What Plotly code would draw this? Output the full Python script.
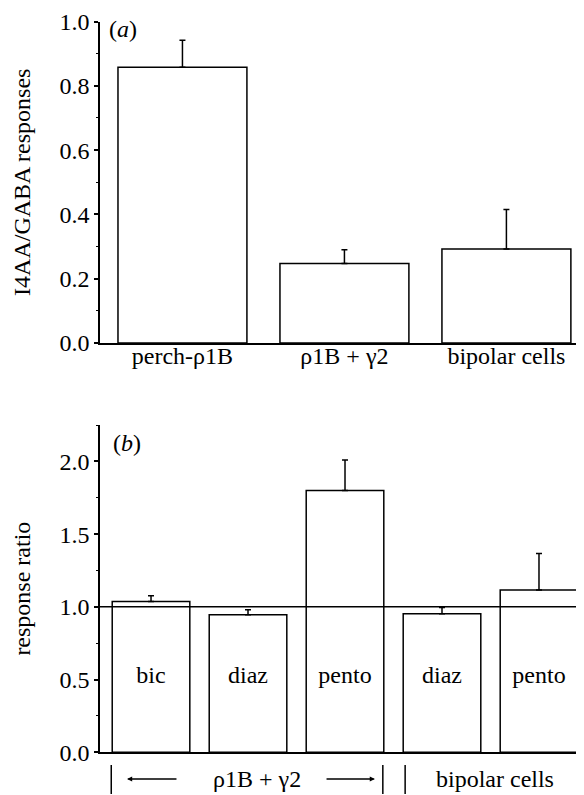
import plotly.graph_objects as go

# ---- data ----
top_labels = ["perch-ρ1B", "ρ1B + γ2", "bipolar cells"]
top_values = [0.858, 0.247, 0.292]
top_errors = [0.084, 0.043, 0.123]

bottom_labels = ["bic", "diaz", "pento", "diaz", "pento"]
bottom_values = [1.036, 0.946, 1.80, 0.953, 1.116]
bottom_errors = [0.041, 0.034, 0.21, 0.042, 0.25]

group_names = ["ρ1B + γ2", "bipolar cells"]
group_centers = [1.09, 3.55]
group_edges = [-0.41, 2.39, 2.62, 4.45]

FONT = "Liberation Serif, Times New Roman, serif"
FS = 24
O = 8                      # default page body margin
W, H = 584 - O, 795 - O
L = 100 - O


def py(y):
    """page pixel y -> paper fraction"""
    return (H - (y - O)) / H


def px(x):
    """page pixel x -> paper fraction"""
    return (x - O - L) / (W - L)


fig = go.Figure()

top_x = list(range(len(top_values)))
fig.add_trace(go.Bar(
    x=top_x, y=top_values, width=0.796,
    marker=dict(color="white", line=dict(color="black", width=1.5)),
    error_y=dict(type="data", symmetric=False, array=top_errors,
                 arrayminus=[0] * len(top_errors), color="black",
                 thickness=1.5, width=3),
    xaxis="x", yaxis="y", showlegend=False,
))

bot_x = list(range(len(bottom_values)))
fig.add_trace(go.Bar(
    x=bot_x, y=bottom_values, width=0.8,
    marker=dict(color="white", line=dict(color="black", width=1.5)),
    error_y=dict(type="data", symmetric=False, array=bottom_errors,
                 arrayminus=[0] * len(bottom_errors), color="black",
                 thickness=1.5, width=3),
    xaxis="x2", yaxis="y2", showlegend=False,
))

fig.add_trace(go.Scatter(
    x=bot_x, y=[0.52] * len(bot_x), text=bottom_labels, mode="text",
    textfont=dict(family=FONT, size=FS, color="black"),
    xaxis="x2", yaxis="y2", showlegend=False, hoverinfo="skip",
))

xdom = [0.0, 1.0]
top_ydom = [py(343), py(21.5)]
bot_ydom = [py(752.3), py(425)]

axis_common = dict(showline=True, linecolor="black", linewidth=1.5,
                   showgrid=False, zeroline=False, automargin=False,
                   tickfont=dict(family=FONT, size=FS, color="black"))

fig.update_layout(
    width=W, height=H,
    margin=dict(l=L, r=0, t=0, b=0, autoexpand=False),
    paper_bgcolor="white", plot_bgcolor="white",
    font=dict(family=FONT, size=FS, color="black"),
    xaxis=dict(domain=xdom, anchor="y", range=[-0.509, 2.479],
               tickmode="array", tickvals=top_x, ticktext=top_labels,
               ticks="", ticklabelstandoff=-10, **axis_common),
    yaxis=dict(domain=top_ydom, anchor="x", range=[0, 1.0],
               tickmode="linear", tick0=0, dtick=0.2, tickformat=".1f",
               ticks="outside", ticklen=4, tickwidth=1.5, tickcolor="black",
               ticklabeloverflow="allow",
               minor=dict(dtick=0.1, ticks="outside", ticklen=2,
                          tickwidth=1.2, tickcolor="black"),
               title=dict(text="I4AA/GABA responses", standoff=22,
                          font=dict(family=FONT, size=FS)),
               **axis_common),
    xaxis2=dict(domain=xdom, anchor="y2", range=[-0.526, 4.464],
                showticklabels=False, ticks="", **axis_common),
    yaxis2=dict(domain=bot_ydom, anchor="x2", range=[0, 2.25],
                tickmode="linear", tick0=0, dtick=0.5, tickformat=".1f",
                ticks="outside", ticklen=4, tickwidth=1.5, tickcolor="black",
                ticklabeloverflow="allow",
                minor=dict(dtick=0.25, ticks="outside", ticklen=2,
                           tickwidth=1.2, tickcolor="black"),
                title=dict(text="response ratio", standoff=22,
                           font=dict(family=FONT, size=FS)),
                **axis_common),
)

# reference line at 1.0
fig.add_shape(type="line", xref="x2 domain", yref="y2", x0=0, x1=1,
              y0=1.0, y1=1.0, line=dict(color="black", width=1.5))

# panel labels
fig.add_annotation(text="(<i>a</i>)", xref="paper", yref="paper",
                   x=px(123), y=py(29), xanchor="center", yanchor="middle",
                   showarrow=False, font=dict(family=FONT, size=FS))
fig.add_annotation(text="(<i>b</i>)", xref="paper", yref="paper",
                   x=px(127), y=py(443), xanchor="center", yanchor="middle",
                   showarrow=False, font=dict(family=FONT, size=FS))

# group brackets below the bottom panel
for xe in group_edges:
    fig.add_shape(type="line", xref="x2", yref="paper", x0=xe, x1=xe,
                  y0=py(794), y1=py(765), line=dict(color="black", width=1.5))

ytxt = py(779)
for name, xc in zip(group_names, group_centers):
    fig.add_annotation(text=name, xref="x2", yref="paper", x=xc, y=ytxt,
                       xanchor="center", yanchor="middle",
                       showarrow=False, font=dict(family=FONT, size=FS))

# arrows
arrow_specs = [(-0.248, 0.278), (2.309, 1.794)]
for head, tail in arrow_specs:
    fig.add_annotation(x=head, y=ytxt, ax=tail, ay=0, xref="x2", yref="paper",
                       axref="x2", ayref="pixel", text="", showarrow=True,
                       arrowhead=2, arrowsize=0.8, arrowwidth=1.3,
                       arrowcolor="black")

fig.write_html("out.html")
